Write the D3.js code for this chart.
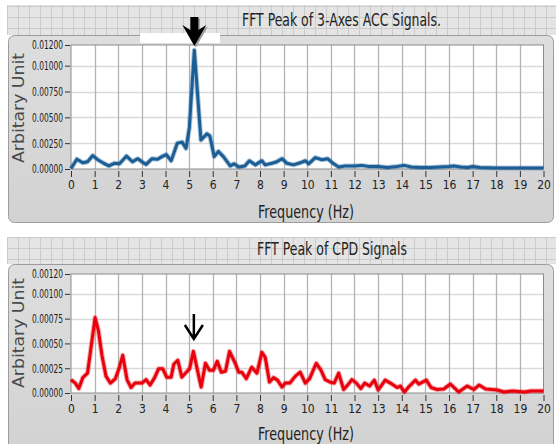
<!DOCTYPE html>
<html>
<head>
<meta charset="utf-8">
<script src="https://cdn.jsdelivr.net/npm/d3@7"></script>
<style>
  html, body { margin: 0; padding: 0; background: #fff; }
  svg { display: block; }
  text { font-family: "Liberation Sans Narrow", "DejaVu Sans Condensed", "DejaVu Sans", sans-serif; }
</style>
</head>
<body>
<div id="chart"></div>
<script>
// Values
const accFreq = [0, 0.25, 0.5, 0.7, 0.92, 1.13, 1.35, 1.6, 1.84, 2.05, 2.35, 2.6, 2.83, 3.0, 3.18, 3.43, 3.67, 3.85, 4.03, 4.24, 4.5, 4.7, 4.87, 5.01, 5.22, 5.5, 5.75, 5.88, 6.06, 6.24, 6.45, 6.74, 6.9, 7.1, 7.36, 7.55, 7.8, 8.08, 8.22, 8.5, 8.71, 8.93, 9.14, 9.42, 9.7, 9.92, 10.06, 10.34, 10.62, 10.86, 11.12, 11.33, 11.6, 12.0, 12.3, 12.6, 13.0, 13.4, 13.8, 14.1, 14.4, 14.8, 15.2, 15.6, 16.0, 16.2, 16.5, 16.8, 17.0, 17.3, 18.0, 19.0, 20.0];
const accPeak = [0.00005, 0.00095, 0.0006, 0.0007, 0.0013, 0.0009, 0.0006, 0.0003, 0.00055, 0.0005, 0.00125, 0.0007, 0.001, 0.0007, 0.00045, 0.001, 0.00095, 0.0012, 0.0014, 0.0008, 0.0025, 0.0026, 0.002, 0.004, 0.0115, 0.0028, 0.0034, 0.0032, 0.0012, 0.0017, 0.0012, 0.0003, 0.0005, 0.0002, 0.0003, 0.0008, 0.0004, 0.0008, 0.0004, 0.00055, 0.0007, 0.001, 0.00055, 0.0004, 0.0006, 0.0008, 0.0005, 0.0011, 0.0009, 0.001, 0.0005, 0.0002, 0.0003, 0.0003, 0.00035, 0.00025, 0.00025, 0.00015, 0.00025, 0.00035, 0.0002, 0.00015, 0.00015, 0.0002, 0.00025, 0.0003, 0.0002, 0.00015, 0.00025, 0.00015, 0.0001, 0.0001, 0.0001];

const cpdFreq = [0, 0.18, 0.33, 0.5, 0.7, 1.02, 1.16, 1.31, 1.48, 1.67, 1.88, 2.05, 2.19, 2.37, 2.54, 2.71, 3.0, 3.18, 3.35, 3.54, 3.71, 3.88, 4.05, 4.24, 4.35, 4.52, 4.69, 4.88, 5.02, 5.18, 5.37, 5.51, 5.69, 5.86, 6.03, 6.19, 6.36, 6.54, 6.71, 6.95, 7.1, 7.23, 7.42, 7.65, 7.87, 8.08, 8.22, 8.4, 8.57, 8.74, 8.93, 9.07, 9.26, 9.5, 9.7, 9.92, 10.1, 10.38, 10.58, 10.76, 10.97, 11.14, 11.33, 11.54, 11.71, 11.89, 12.08, 12.27, 12.43, 12.64, 12.84, 13.0, 13.3, 13.52, 13.8, 13.94, 14.11, 14.29, 14.58, 14.72, 15.04, 15.24, 15.5, 15.78, 16.06, 16.41, 16.77, 17.05, 17.27, 17.55, 18.04, 18.33, 18.68, 19.2, 19.47, 20.0];
const cpdPeak = [0.000135, 0.0001, 0.000045, 0.000155, 0.0002, 0.00076, 0.00063, 0.00038, 0.00017, 0.0001, 0.000145, 0.00026, 0.00038, 0.000135, 0.000055, 0.0001, 0.0001, 0.000135, 0.00008, 0.000155, 0.000245, 0.000245, 0.00016, 0.00016, 0.00029, 0.00033, 0.00016, 0.00021, 0.000245, 0.00042, 0.00021, 0.00006, 0.0003, 0.00023, 0.00023, 0.00032, 0.00021, 0.00022, 0.00042, 0.0003, 0.00021, 0.00021, 0.000145, 0.00026, 0.0002, 0.00041, 0.00036, 0.00011, 0.000155, 0.00013, 0.00006, 0.0001, 0.0001, 0.00017, 0.00021, 0.0001, 0.000145, 0.0003, 0.00023, 0.000135, 0.00011, 0.0001, 0.0002, 0.000035, 0.00008, 0.000135, 0.0001, 0.000045, 0.0001, 0.00007, 0.00013, 0.00003, 0.00013, 0.0001, 0.000055, 0.00007, 0.00001, 0.00006, 0.00013, 0.00009, 0.00013, 0.000055, 0.000035, 0.00004, 0.00009, 0.00001, 0.00007, 0.000035, 0.00008, 0.00004, 0.00003, 0.00001, 0.00002, 0.00001, 0.00002, 0.00002];

const freqTicks = [0, 1, 2, 3, 4, 5, 6, 7, 8, 9, 10, 11, 12, 13, 14, 15, 16, 17, 18, 19, 20];
const accTicks = [0, 0.0025, 0.005, 0.0075, 0.01, 0.012];
const cpdTicks = [0, 0.00025, 0.0005, 0.00075, 0.001, 0.0012];

const accTitle = "FFT Peak of 3-Axes ACC Signals.";
const cpdTitle = "FFT Peak of CPD Signals";
const yLabel = "Arbitary Unit";
const xLabel = "Frequency (Hz)";

const W = 556, H = 444;

const svg = d3.select('#chart').append('svg')
    .attr('width', W)
    .attr('height', H);

// grid pattern for the title strips
const defs = svg.append('defs');
const pat = defs.append('pattern')
    .attr('id', 'strip')
    .attr('width', 11).attr('height', 11)
    .attr('patternUnits', 'userSpaceOnUse')
    .attr('x', 7).attr('y', 6);
pat.append('rect').attr('width', 11).attr('height', 11).attr('fill', '#e4e4e4');
pat.append('path').attr('d', 'M0 0.5H11M0.5 0V11').attr('stroke', '#cbcbcb').attr('stroke-width', 1);

const panelGrad = defs.append('linearGradient')
    .attr('id', 'panel').attr('x1', 0).attr('y1', 0).attr('x2', 0).attr('y2', 1);
panelGrad.append('stop').attr('offset', '0%').attr('stop-color', '#dedede');
panelGrad.append('stop').attr('offset', '100%').attr('stop-color', '#d2d2d2');

function drawPanel(opt) {
    const g = svg.append('g');

    // title strip
    g.append('rect')
        .attr('x', 7).attr('y', opt.stripTop)
        .attr('width', W - 7).attr('height', opt.panelTop - opt.stripTop)
        .attr('fill', 'url(#strip)');

    // panel
    g.append('rect')
        .attr('x', 8.5).attr('y', opt.panelTop + 0.5)
        .attr('width', 545).attr('height', opt.panelBottom - opt.panelTop)
        .attr('rx', 6)
        .attr('fill', 'url(#panel)')
        .attr('stroke', '#9c9c9c');

    g.append('text')
        .attr('x', opt.titleX).attr('y', opt.titleY)
        .attr('text-anchor', 'middle')
        .attr('font-size', 18)
        .attr('fill', '#222')
        .attr('textLength', opt.titleLen)
        .attr('lengthAdjust', 'spacingAndGlyphs')
        .text(opt.title);

    const x = d3.scaleLinear().domain([0, 20]).range([71, 543.5]);
    const y = d3.scaleLinear().domain(opt.yDomain).range([opt.plotBottom, opt.plotTop]);

    // plot background
    g.append('rect')
        .attr('x', x(0)).attr('y', y(opt.yDomain[1]))
        .attr('width', x(20) - x(0)).attr('height', y(0) - y(opt.yDomain[1]))
        .attr('fill', '#fff');

    // grid
    g.append('g').selectAll('line')
        .data(opt.yTicks.slice(1, -1))
        .join('line')
        .attr('x1', x(0)).attr('x2', x(20))
        .attr('y1', d => Math.round(y(d)) + 0.5).attr('y2', d => Math.round(y(d)) + 0.5)
        .attr('stroke', '#d9d9d9').attr('stroke-width', 1.5);

    g.append('g').selectAll('line')
        .data(freqTicks.slice(1, -1))
        .join('line')
        .attr('x1', d => Math.round(x(d)) + 0.5).attr('x2', d => Math.round(x(d)) + 0.5)
        .attr('y1', y(opt.yDomain[1])).attr('y2', y(0))
        .attr('stroke', '#b3b3b3').attr('stroke-width', 1.3);

    // frame
    g.append('rect')
        .attr('x', x(0)).attr('y', y(opt.yDomain[1]))
        .attr('width', x(20) - x(0)).attr('height', y(0) - y(opt.yDomain[1]))
        .attr('fill', 'none').attr('stroke', '#8c8c8c').attr('stroke-width', 1);

    // axes
    const xAxis = d3.axisBottom(x)
        .tickValues(freqTicks)
        .tickSize(6)
        .tickPadding(3)
        .tickFormat(d3.format('d'));
    const gx = g.append('g')
        .attr('transform', `translate(0,${y(0) + 2})`)
        .call(xAxis);
    gx.select('.domain').remove();
    gx.selectAll('line').attr('stroke', '#333');
    gx.selectAll('text').attr('font-size', 12).attr('fill', '#222');

    const yAxis = d3.axisLeft(y)
        .tickValues(opt.yTicks)
        .tickSize(5)
        .tickPadding(2)
        .tickFormat(d3.format('.5f'));
    const gy = g.append('g')
        .attr('transform', `translate(${x(0) - 1},0)`)
        .call(yAxis);
    gy.select('.domain').remove();
    gy.selectAll('line').attr('stroke', '#333');
    gy.selectAll('text')
        .attr('font-size', 12).attr('fill', '#222')
        .attr('textLength', 31).attr('lengthAdjust', 'spacingAndGlyphs');

    // axis labels
    g.append('text')
        .attr('transform', `translate(24,${opt.yLabelY}) rotate(-90)`)
        .attr('text-anchor', 'middle')
        .attr('font-size', 15)
        .attr('fill', '#4a4a4a')
        .attr('textLength', 110)
        .attr('lengthAdjust', 'spacingAndGlyphs')
        .text(yLabel);

    g.append('text')
        .attr('x', 306).attr('y', opt.xLabelY)
        .attr('text-anchor', 'middle')
        .attr('font-size', 17)
        .attr('fill', '#222')
        .attr('textLength', 96)
        .attr('lengthAdjust', 'spacingAndGlyphs')
        .text(xLabel);

    // series
    const line = d3.line()
        .x((d, i) => x(opt.freq[i]))
        .y(d => y(d));

    g.append('path')
        .datum(opt.values)
        .attr('d', line)
        .attr('fill', 'none')
        .attr('stroke', opt.color)
        .attr('stroke-opacity', 0.35)
        .attr('stroke-width', 5)
        .attr('stroke-linejoin', 'round');

    g.append('path')
        .datum(opt.values)
        .attr('d', line)
        .attr('fill', 'none')
        .attr('stroke', opt.color)
        .attr('stroke-width', 3)
        .attr('stroke-linejoin', 'round');

    return { x, y, g };
}

const accPanel = drawPanel({
    stripTop: 5, panelTop: 35, panelBottom: 222,
    title: accTitle, titleX: 341.5, titleY: 26, titleLen: 199,
    yDomain: [0, 0.012], yTicks: accTicks,
    plotTop: 45, plotBottom: 169,
    yLabelY: 108, xLabelY: 218,
    freq: accFreq, values: accPeak, color: '#1b5e95'
});

const cpdPanel = drawPanel({
    stripTop: 237, panelTop: 264, panelBottom: 452,
    title: cpdTitle, titleX: 332, titleY: 255, titleLen: 150,
    yDomain: [0, 0.0012], yTicks: cpdTicks,
    plotTop: 274, plotBottom: 393,
    yLabelY: 333, xLabelY: 440,
    freq: cpdFreq, values: cpdPeak, color: '#e8000c'
});

// white patch behind the pasted arrow
svg.append('rect')
    .attr('x', 140).attr('y', 33).attr('width', 80).attr('height', 10)
    .attr('fill', '#fff');

// bold arrow on the ACC peak
const ax = accPanel.x(5.22);
const arrowPath = `M${ax - 4} 17 L${ax + 4} 17 L${ax + 4} 30 L${ax + 12} 25 L${ax} 46 L${ax - 12} 25 L${ax - 4} 30 Z`;
svg.append('path')
    .attr('d', arrowPath)
    .attr('transform', 'translate(1.5,1.5)')
    .attr('fill', '#9a9a9a');
svg.append('path')
    .attr('d', arrowPath)
    .attr('fill', '#000');

// thin arrow on the CPD plot
const bx = cpdPanel.x(5.2);
svg.append('path')
    .attr('d', `M${bx} 314 L${bx} 339 M${bx - 9} 325 L${bx} 339 L${bx + 9} 325`)
    .attr('fill', 'none')
    .attr('stroke', '#000')
    .attr('stroke-width', 2.5);
</script>
</body>
</html>
